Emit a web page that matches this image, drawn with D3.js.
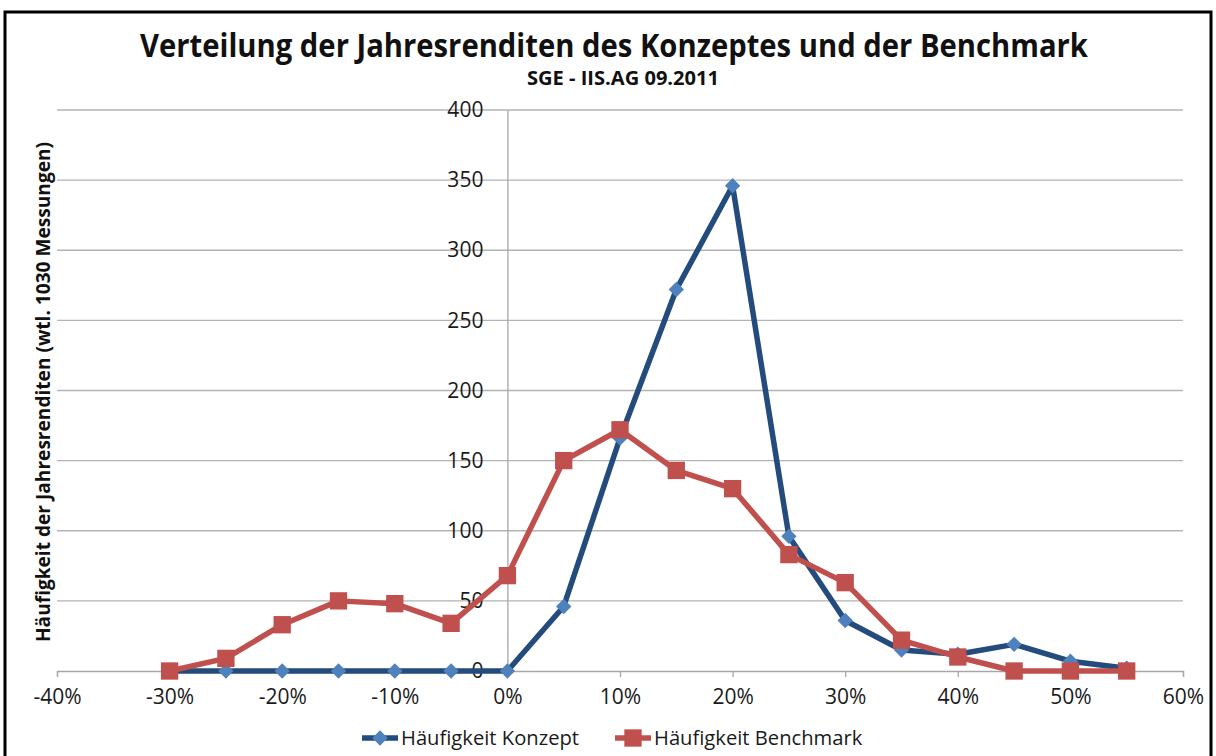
<!DOCTYPE html>
<html>
<head>
<meta charset="utf-8">
<script src="https://cdn.jsdelivr.net/npm/d3@7"></script>
<style>
  body { margin: 0; background: #fff; }
  svg { display: block; font-family: "Open Sans", "Noto Sans", sans-serif; }
</style>
</head>
<body>
<div id="chart"></div>
<script>

// data
var returns = [-0.30, -0.25, -0.20, -0.15, -0.10, -0.05, 0, 0.05, 0.10, 0.15, 0.20, 0.25, 0.30, 0.35, 0.40, 0.45, 0.50, 0.55];
var konzept = [0, 0, 0, 0, 0, 0, 0, 46, 166, 272, 346, 96, 36, 15, 12, 19, 7, 2];
var benchmark = [0, 9, 33, 50, 48, 34, 68, 150, 172, 143, 130, 83, 63, 22, 10, 0, 0, 0];

var xTicks = [-0.4, -0.3, -0.2, -0.1, 0, 0.1, 0.2, 0.3, 0.4, 0.5, 0.6];
var yTicks = [0, 50, 100, 150, 200, 250, 300, 350, 400];

var seriesNames = ["Häufigkeit Konzept", "Häufigkeit Benchmark"];

var width = 1216, height = 756;

var svg = d3.select("#chart").append("svg")
    .attr("width", width)
    .attr("height", height);

// frame round the chart
svg.append("rect")
    .attr("x", 5).attr("y", 12)
    .attr("width", 1206).attr("height", 760)
    .attr("fill", "#fff")
    .attr("stroke", "#000")
    .attr("stroke-width", 3);

var x = d3.scaleLinear().domain([-0.4, 0.6]).range([57, 1183]);
var y = d3.scaleLinear().domain([0, 400]).range([671, 110]);

// horizontal gridlines
svg.append("g")
    .selectAll("line")
    .data(yTicks.filter(function(d) { return d > 0; }))
    .enter().append("line")
    .attr("x1", x(-0.4)).attr("x2", x(0.6))
    .attr("y1", function(d) { return y(d); })
    .attr("y2", function(d) { return y(d); })
    .attr("stroke", "#b3b3b3")
    .attr("stroke-width", 1.3);

// x axis along zero
var xAxis = d3.axisBottom(x)
    .tickValues(xTicks)
    .tickSize(6)
    .tickFormat(d3.format(".0%"));

var gx = svg.append("g")
    .attr("transform", "translate(0," + y(0) + ")")
    .call(xAxis);
gx.select(".domain").attr("stroke", "#a6a6a6").attr("stroke-width", 1.3);
gx.selectAll(".tick line").attr("stroke", "#a6a6a6").attr("stroke-width", 1.3);
gx.selectAll(".tick text")
    .attr("font-size", 21)
    .attr("font-family", "Open Sans")
    .attr("fill", "#1a1a1a")
    .attr("dy", "0.75em")
    .attr("y", 17)
    .text(function(d) { return d3.format(".0%")(d).replace("−", "-"); });

// y axis crosses at 0%
var yAxis = d3.axisLeft(y)
    .tickValues(yTicks)
    .tickSize(0)
    .tickPadding(24);

var gy = svg.append("g")
    .attr("transform", "translate(" + x(0) + ",0)")
    .call(yAxis);
gy.select(".domain").attr("stroke", "#a6a6a6").attr("stroke-width", 1.3);
gy.selectAll(".tick text")
    .attr("font-size", 21)
    .attr("font-family", "Open Sans")
    .attr("fill", "#1a1a1a");

// lines
var line = d3.line()
    .x(function(d, i) { return x(returns[i]); })
    .y(function(d) { return y(d); });

svg.append("path")
    .datum(konzept)
    .attr("d", line)
    .attr("fill", "none")
    .attr("stroke", "#234b7c")
    .attr("stroke-width", 5.5)
    .attr("stroke-linejoin", "round");

svg.append("path")
    .datum(benchmark)
    .attr("d", line)
    .attr("fill", "none")
    .attr("stroke", "#c0504d")
    .attr("stroke-width", 5.5)
    .attr("stroke-linejoin", "round");

// markers
var diamond = d3.symbol().type(d3.symbolDiamond2).size(150);
var square = d3.symbol().type(d3.symbolSquare).size(300);

svg.append("g")
    .selectAll("path")
    .data(konzept)
    .enter().append("path")
    .attr("d", diamond)
    .attr("transform", function(d, i) { return "translate(" + x(returns[i]) + "," + y(d) + ")"; })
    .attr("fill", "#4f81bd");

svg.append("g")
    .selectAll("path")
    .data(benchmark)
    .enter().append("path")
    .attr("d", square)
    .attr("transform", function(d, i) { return "translate(" + x(returns[i]) + "," + y(d) + ")"; })
    .attr("fill", "#c0504d");

// titles
svg.append("text")
    .attr("x", 614).attr("y", 57)
    .attr("text-anchor", "middle")
    .attr("font-size", 32)
    .attr("font-weight", "bold")
    .attr("textLength", 948)
    .attr("lengthAdjust", "spacingAndGlyphs")
    .attr("fill", "#111")
    .text("Verteilung der Jahresrenditen des Konzeptes und der Benchmark");

svg.append("text")
    .attr("x", 623).attr("y", 85)
    .attr("text-anchor", "middle")
    .attr("font-size", 19)
    .attr("font-weight", "bold")
    .attr("textLength", 192)
    .attr("lengthAdjust", "spacingAndGlyphs")
    .attr("fill", "#111")
    .text("SGE - IIS.AG 09.2011");

svg.append("text")
    .attr("transform", "translate(50,392) rotate(-90)")
    .attr("text-anchor", "middle")
    .attr("font-size", 20)
    .attr("font-weight", "bold")
    .attr("textLength", 500)
    .attr("lengthAdjust", "spacingAndGlyphs")
    .attr("fill", "#111")
    .text("Häufigkeit der Jahresrenditen (wtl. 1030 Messungen)");

// legend
var legend = svg.append("g").attr("transform", "translate(362,738)");
var items = [
    {name: seriesNames[0], color: "#234b7c", marker: diamond, mfill: "#4f81bd", dx: 0},
    {name: seriesNames[1], color: "#c0504d", marker: square, mfill: "#c0504d", dx: 253}
];
items.forEach(function(it) {
    var g = legend.append("g").attr("transform", "translate(" + it.dx + ",0)");
    g.append("line")
        .attr("x1", 0).attr("x2", 36)
        .attr("stroke", it.color)
        .attr("stroke-width", 5.5);
    g.append("path")
        .attr("d", it.marker)
        .attr("transform", "translate(18,0)")
        .attr("fill", it.mfill);
    g.append("text")
        .attr("x", 39).attr("y", 7)
        .attr("font-size", 20.2)
        .attr("fill", "#1a1a1a")
        .text(it.name);
});

</script>
</body>
</html>
